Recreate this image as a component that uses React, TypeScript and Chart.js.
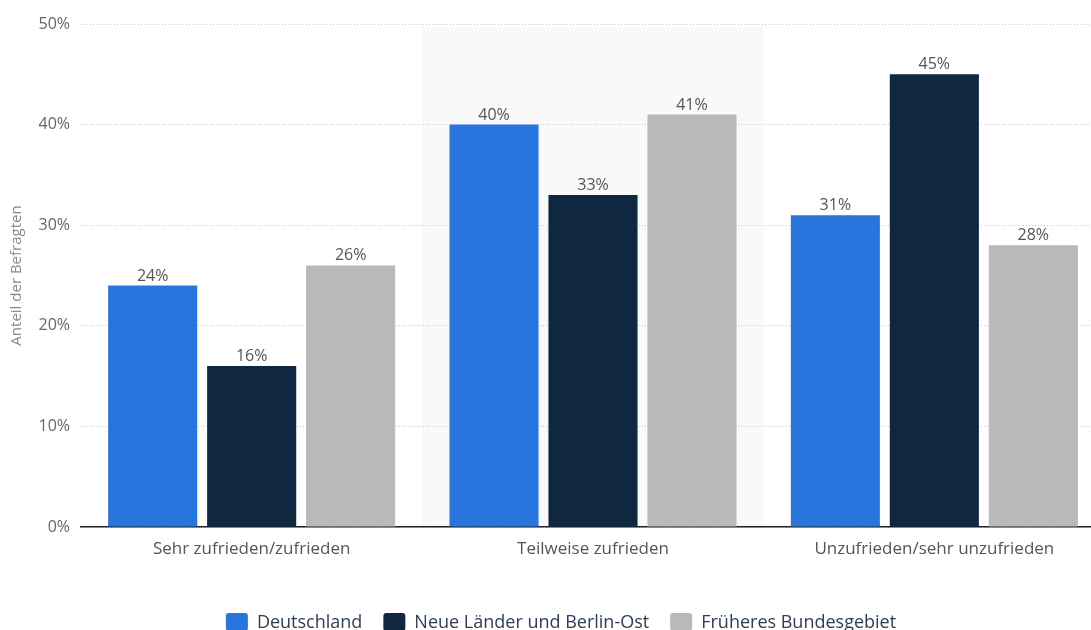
import React, { useEffect, useRef } from "react";
import { Chart, registerables } from "chart.js";

Chart.register(...registerables);

const categories = ["Sehr zufrieden/zufrieden", "Teilweise zufrieden", "Unzufrieden/sehr unzufrieden"];
const seriesNames = ["Deutschland", "Neue Länder und Berlin-Ost", "Früheres Bundesgebiet"];
const deutschland = [24, 40, 31];
const neueLaender = [16, 33, 45];
const fruehereBL = [26, 41, 28];
const seriesColors = ["#2876dd", "#0f2740", "#b9b9b9"];
const yTicks = [0, 10, 20, 30, 40, 50];
const highlightIndex = 1;

const FONT = "'Open Sans', 'Noto Sans', sans-serif";

const bandPlugin = {
  id: "band",
  beforeDraw(chart: any) {
    const { ctx, chartArea, scales } = chart;
    const x = scales.x;
    const c = x.getPixelForValue(highlightIndex);
    const w = x.getPixelForValue(1) - x.getPixelForValue(0);
    ctx.save();
    ctx.fillStyle = "#f9f9f9";
    ctx.fillRect(c - w / 2, chartArea.top + 3, w, chartArea.bottom - chartArea.top - 3);
    ctx.restore();
  },
};

const labelPlugin = {
  id: "vals",
  afterDatasetsDraw(chart: any) {
    const { ctx } = chart;
    ctx.save();
    ctx.font = `16px ${FONT}`;
    ctx.fillStyle = "#555";
    ctx.textAlign = "center";
    ctx.textBaseline = "alphabetic";
    chart.data.datasets.forEach((ds: any, i: number) => {
      const meta = chart.getDatasetMeta(i);
      meta.data.forEach((bar: any, j: number) => {
        ctx.fillText(ds.data[j] + "%", bar.x, bar.y - 5);
      });
    });
    ctx.restore();
  },
};

const legendPlugin = {
  id: "customLegend",
  afterDraw(chart: any) {
    const { ctx } = chart;
    ctx.save();
    ctx.font = `18px ${FONT}`;
    const box = 22, gap = 9, itemGap = 21;
    const widths = seriesNames.map((n) => box + gap + ctx.measureText(n).width);
    const total = widths.reduce((a, b) => a + b, 0) + itemGap * (seriesNames.length - 1);
    let x = 561 - total / 2;
    const y = 622;
    seriesNames.forEach((n, i) => {
      ctx.fillStyle = seriesColors[i];
      ctx.beginPath();
      (ctx as any).roundRect(x, y - 9, box, 18, 3);
      ctx.fill();
      ctx.fillStyle = "#2e3d55";
      ctx.textBaseline = "middle";
      ctx.textAlign = "left";
      ctx.fillText(n, x + box + gap, y + 1);
      x += widths[i] + itemGap;
    });
    ctx.restore();
  },
};

export default function App() {
  const ref = useRef<HTMLCanvasElement | null>(null);
  useEffect(() => {
    if (!ref.current) return;
    const chart = new Chart(ref.current, {
      type: "bar",
      data: {
        labels: categories,
        datasets: [deutschland, neueLaender, fruehereBL].map((d, i) => ({
          label: seriesNames[i],
          data: d,
          backgroundColor: seriesColors[i],
          categoryPercentage: 0.87,
          barPercentage: 0.9,
        })),
      },
      options: {
        animation: false,
        responsive: false,
        maintainAspectRatio: false,
        layout: { padding: { top: 24, right: 0, left: 0, bottom: 0 } },
        plugins: { legend: { display: false }, tooltip: { enabled: false } },
        scales: {
          x: {
            grid: { display: false, drawTicks: false },
            border: { display: true, color: "#222", width: 1.5 },
            ticks: { color: "#555", font: { family: FONT, size: 17 }, padding: 12 },
            afterFit(scale: any) {
              scale.height = 103;
            },
          },
          y: {
            min: 0,
            max: 50,
            afterBuildTicks(scale: any) {
              scale.ticks = yTicks.map((v) => ({ value: v }));
            },
            grid: { color: "#c8c8c8", lineWidth: 1, drawTicks: false },
            border: { display: false, dash: [1, 2] },
            ticks: {
              color: "#666",
              font: { family: FONT, size: 16 },
              padding: 11,
              callback: (v: any) => v + "%",
            },
            title: {
              display: true,
              text: "Anteil der Befragten",
              color: "#888",
              font: { family: FONT, size: 15 },
              padding: { top: 8, bottom: 0 },
            },
            afterFit(scale: any) {
              scale.width = 81;
            },
          },
        },
      },
      plugins: [bandPlugin, labelPlugin, legendPlugin],
    });
    return () => chart.destroy();
  }, []);
  return (
    <div style={{ position: "fixed", left: 0, top: 0, width: 1091, height: 630, overflow: "hidden", background: "#fff" }}>
      <canvas ref={ref} width={1105} height={630} style={{ display: "block", width: 1105, height: 630 }} />
    </div>
  );
}
